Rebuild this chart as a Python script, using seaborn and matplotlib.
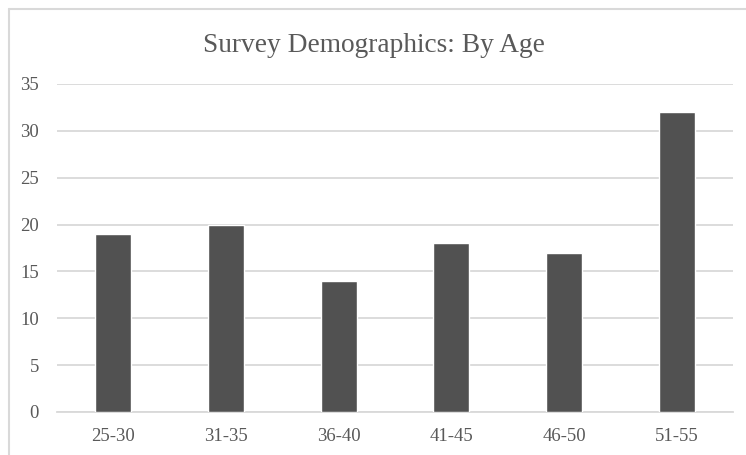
import matplotlib
matplotlib.use("Agg")
import matplotlib.pyplot as plt
from matplotlib.lines import Line2D
import seaborn as sns
import pandas as pd

age_groups = ["25-30", "31-35", "36-40", "41-45", "46-50", "51-55"]
counts = [19, 20, 14, 18, 17, 32]
y_ticks = [0, 5, 10, 15, 20, 25, 30, 35]

sns.set_theme(style="white")
plt.rcParams["font.family"] = ["Liberation Serif", "DejaVu Serif"]

df = pd.DataFrame({"age": age_groups, "count": counts})

fig = plt.figure(figsize=(7.46, 4.55), dpi=100)
ax = fig.add_axes([57 / 746, 1 - 412 / 455, 676 / 746, 328 / 455])

sns.barplot(data=df, x="age", y="count", color="#515151", width=0.32,
            saturation=1, ax=ax, zorder=3)

ax.set_ylim(0, 35)
ax.set_xlim(-0.5, 5.5)
ax.set_yticks(y_ticks)
ax.set_yticklabels([str(t) for t in y_ticks])
ax.yaxis.grid(True, color="#d9d9d9", linewidth=1.3, zorder=0)
ax.xaxis.grid(False)
for side in ["top", "right", "left"]:
    ax.spines[side].set_visible(False)
ax.spines["bottom"].set_color("#d9d9d9")
ax.spines["bottom"].set_linewidth(1.3)
ax.tick_params(axis="both", length=0, labelsize=13.5, labelcolor="#595959")
ax.tick_params(axis="y", pad=13)
ax.tick_params(axis="x", pad=11.5)
ax.set_xlabel("")
ax.set_ylabel("")

fig.text(374 / 746, 1 - 46 / 455, "Survey Demographics: By Age",
         ha="center", va="center", fontsize=19.7, color="#595959")

# chart-area border (top and left edges)
fig.add_artist(Line2D([8.5 / 746, 1.0], [1 - 8.5 / 455, 1 - 8.5 / 455],
                      transform=fig.transFigure, color="#d9d9d9", linewidth=1.5))
fig.add_artist(Line2D([8.5 / 746, 8.5 / 746], [0.0, 1 - 8.5 / 455],
                      transform=fig.transFigure, color="#d9d9d9", linewidth=1.5))

fig.savefig("out.png", dpi=100)
